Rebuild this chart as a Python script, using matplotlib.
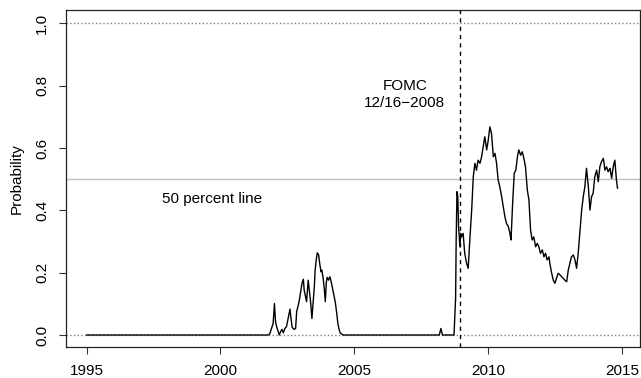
# Probability series with FOMC date marker and reference lines

from matplotlib import pyplot as plt

plt.rcParams['font.family'] = ['Liberation Sans', 'DejaVu Sans']

# decimal year and probability readings
years = [
    1995.00, 2001.79, 2001.85, 2001.91, 2001.97, 2002.02, 2002.06, 2002.10,
    2002.16, 2002.20, 2002.25, 2002.30, 2002.35, 2002.41, 2002.47, 2002.53,
    2002.60, 2002.63, 2002.68, 2002.75, 2002.81, 2002.85, 2002.91, 2002.95,
    2003.00, 2003.05, 2003.10, 2003.13, 2003.17, 2003.22, 2003.28, 2003.32,
    2003.37, 2003.42, 2003.47, 2003.51, 2003.54, 2003.58, 2003.62, 2003.67,
    2003.71, 2003.76, 2003.79, 2003.84, 2003.88, 2003.92, 2003.96, 2003.99,
    2004.04, 2004.09, 2004.14, 2004.19, 2004.24, 2004.29, 2004.34, 2004.39,
    2004.44, 2004.49, 2004.59, 2008.18, 2008.24, 2008.30, 2008.73, 2008.76,
    2008.79, 2008.81, 2008.84, 2008.87, 2008.90, 2008.95, 2008.98, 2009.01,
    2009.07, 2009.13, 2009.20, 2009.26, 2009.32, 2009.39, 2009.45, 2009.51,
    2009.57, 2009.63, 2009.70, 2009.76, 2009.82, 2009.88, 2009.95, 2010.01,
    2010.07, 2010.13, 2010.20, 2010.26, 2010.32, 2010.38, 2010.44, 2010.51,
    2010.57, 2010.63, 2010.69, 2010.76, 2010.82, 2010.86, 2010.92, 2010.98,
    2011.04, 2011.10, 2011.15, 2011.22, 2011.28, 2011.34, 2011.40, 2011.47,
    2011.53, 2011.59, 2011.65, 2011.71, 2011.78, 2011.84, 2011.90, 2011.96,
    2012.03, 2012.09, 2012.15, 2012.21, 2012.28, 2012.31, 2012.38, 2012.44,
    2012.50, 2012.56, 2012.62, 2012.69, 2012.75, 2012.81, 2012.87, 2012.94,
    2013.00, 2013.06, 2013.12, 2013.19, 2013.25, 2013.31, 2013.37, 2013.43,
    2013.50, 2013.56, 2013.62, 2013.68, 2013.75, 2013.81, 2013.87, 2013.93,
    2013.99, 2014.06, 2014.12, 2014.18, 2014.24, 2014.31, 2014.37, 2014.43,
    2014.49, 2014.56, 2014.62, 2014.68, 2014.74, 2014.80, 2014.84,
]
prob = [
    0.0, 0.0, 0.005, 0.021, 0.037, 0.101, 0.043, 0.027,
    0.011, 0.0, 0.011, 0.018, 0.007, 0.021, 0.027, 0.053,
    0.083, 0.059, 0.025, 0.018, 0.021, 0.075, 0.096, 0.112,
    0.139, 0.166, 0.179, 0.144, 0.128, 0.107, 0.176, 0.144,
    0.107, 0.053, 0.112, 0.155, 0.208, 0.240, 0.264, 0.257,
    0.230, 0.203, 0.208, 0.182, 0.150, 0.107, 0.171, 0.185,
    0.176, 0.187, 0.171, 0.150, 0.128, 0.107, 0.075, 0.037,
    0.016, 0.005, 0.0, 0.0, 0.021, 0.0, 0.0, 0.06,
    0.12, 0.30, 0.46, 0.444, 0.348, 0.283, 0.326, 0.315,
    0.326, 0.262, 0.230, 0.214, 0.305, 0.401, 0.508, 0.551,
    0.529, 0.561, 0.551, 0.572, 0.604, 0.636, 0.594, 0.626,
    0.668, 0.647, 0.572, 0.583, 0.551, 0.497, 0.476, 0.444,
    0.412, 0.380, 0.358, 0.348, 0.326, 0.305, 0.422, 0.519,
    0.529, 0.572, 0.594, 0.577, 0.588, 0.567, 0.540, 0.465,
    0.433, 0.337, 0.305, 0.315, 0.283, 0.294, 0.283, 0.262,
    0.273, 0.251, 0.262, 0.241, 0.251, 0.230, 0.198, 0.176,
    0.166, 0.182, 0.198, 0.193, 0.187, 0.182, 0.176, 0.171,
    0.209, 0.230, 0.251, 0.257, 0.241, 0.214, 0.262, 0.326,
    0.401, 0.444, 0.476, 0.535, 0.476, 0.401, 0.444, 0.455,
    0.508, 0.529, 0.492, 0.540, 0.556, 0.567, 0.529, 0.540,
    0.524, 0.535, 0.503, 0.540, 0.561, 0.497, 0.471,
]

FOMC_DATE = 2008.96
x_ticks = [1995, 2000, 2005, 2010, 2015]
y_ticks = [0.0, 0.2, 0.4, 0.6, 0.8, 1.0]

fig = plt.figure(figsize=(6.41, 3.78), dpi=100)
ax = fig.add_axes([66/641, 31/378, 574/641, 337/378])

# reference lines
ax.axhline(1.0, color='grey', ls=':', lw=1)
ax.axhline(0.0, color='grey', ls=':', lw=1)
ax.axhline(0.5, color='#c0c0c0', ls='-', lw=1)
ax.axvline(FOMC_DATE, color='black', ls=(0, (3, 3)), lw=1)

ax.plot(years, prob, color='black', lw=1)

ax.text(2006.89, 0.772, 'FOMC\n12/16\u22122008', ha='center', va='center',
        fontsize=11, linespacing=1.3)
ax.text(1999.68, 0.438, '50 percent line', ha='center', va='center', fontsize=11)

ax.set_xlim(1994.23, 2015.68)
ax.set_ylim(-0.0385, 1.043)
ax.set_xticks(x_ticks)
ax.set_yticks(y_ticks)
ax.set_yticklabels(['%.1f' % v for v in y_ticks], rotation=90, va='center')
ax.set_ylabel('Probability', fontsize=11, labelpad=8)
ax.tick_params(axis='both', which='major', labelsize=11, length=5, width=0.8,
               direction='out', color='#333333')
ax.tick_params(axis='x', pad=7)
ax.tick_params(axis='y', pad=7)
for s in ax.spines.values():
    s.set_linewidth(0.9)
    s.set_color('#222222')

plt.savefig('out.png', dpi=100)
